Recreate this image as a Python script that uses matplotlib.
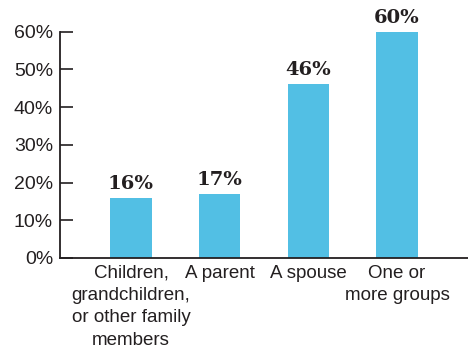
import matplotlib
matplotlib.use("Agg")
import matplotlib.pyplot as plt
from matplotlib import font_manager

categories = ["Children,\ngrandchildren,\nor other family\nmembers", "A parent",
              "A spouse", "One or\nmore groups"]
values = [16, 17, 46, 60]
yticks = [0, 10, 20, 30, 40, 50, 60]

names = {f.name for f in font_manager.fontManager.ttflist}
sans = "Liberation Sans Narrow" if "Liberation Sans Narrow" in names else "Liberation Sans"

ink = "#231f20"
bar_color = "#52bfe4"

fig = plt.figure(figsize=(4.68, 3.49), dpi=100)
ax = fig.add_axes([60 / 468, 1 - 258 / 349, 1 - 60 / 468, (258 - 31.5) / 349])

x = range(len(values))
ax.bar(x, values, width=0.47, color=bar_color)
for i, v in zip(x, values):
    ax.text(i, v + 1.3, "%d%%" % v, ha="center", va="bottom", family="DejaVu Serif",
            fontweight="bold", fontsize=14, color=ink, clip_on=False)

ax.set_xlim(-0.8, 3.8)
ax.set_ylim(0, 60)
ax.set_yticks(yticks)
ax.set_yticklabels(["%d%%" % t for t in yticks], family=sans, fontsize=14, color=ink)
ax.set_xticks(list(x))
ax.set_xticklabels(categories, family=sans, fontsize=13.5, color=ink, linespacing=1.4)
ax.tick_params(axis="y", direction="in", length=9, width=1.2, color=ink, pad=5)
ax.tick_params(axis="x", length=0, pad=5)
for s in ["top", "right"]:
    ax.spines[s].set_visible(False)
for s in ["left", "bottom"]:
    ax.spines[s].set_color(ink)
    ax.spines[s].set_linewidth(1.3)

fig.savefig("out.png", dpi=100)
